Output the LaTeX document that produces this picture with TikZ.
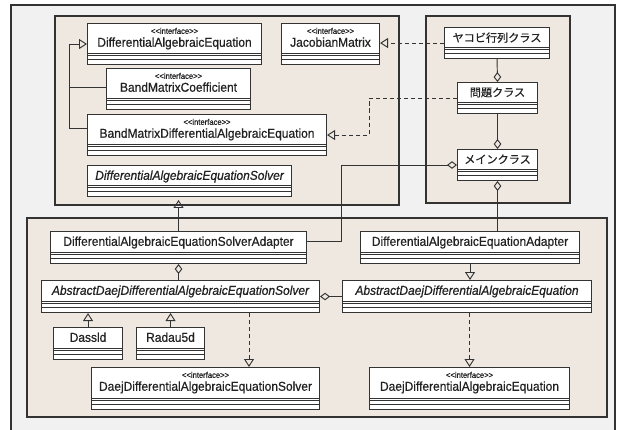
\documentclass[tikz,border=0pt]{standalone}
\usepackage{fontspec}
\setmainfont{Liberation Sans}[FakeStretch=0.93, FakeBold=0.6]
\newfontfamily\cjkfont{Noto Sans CJK JP}[FakeBold=0.5]
\newcommand{\cjk}{\cjkfont\fontsize{9.5}{11}\selectfont}
\usetikzlibrary{arrows.meta}
\usetikzlibrary{calc}

\definecolor{linec}{HTML}{333333}
\definecolor{framec}{HTML}{F1F1F1}
\definecolor{pkgc}{HTML}{EFE8E1}
\definecolor{textc}{HTML}{222222}

\newcommand{\pxu}{0.03cm}
\newcommand{\stereo}{{\fontsize{7}{7.5}\selectfont <\kern0pt<interface>\kern0pt>}\\[-1pt]}

\tikzset{
  frame/.style={draw=linec, fill=framec, line width=0.9pt},
  pkg/.style={draw=linec, fill=pkgc, line width=0.9pt},
  cls/.style={draw=linec, fill=white, line width=0.9pt, inner sep=0pt, anchor=north west,
    path picture={
      \foreach \h in {5.5,9.5,11.5}
        \draw[draw=linec, line width=0.7pt]
          ([yshift=\h*\pxu]path picture bounding box.south west) --
          ([yshift=\h*\pxu]path picture bounding box.south east);
    }},
  lbl/.style={anchor=north, inner sep=0pt, yshift=-4.5pt, align=center, text=textc,
    font=\fontsize{11}{12}\selectfont},
  iflbl/.style={lbl, yshift=0.5pt},
  conn/.style={draw=linec, line width=0.8pt},
  gen/.style={conn, -{Triangle[open, length=6.8pt, width=8.5pt]}},
  real/.style={gen, dash pattern=on 3.5pt off 2.5pt},
  aggend/.style={conn, -{Diamond[open, length=8.5pt, width=6.5pt]}},
  aggstart/.style={conn, {Diamond[open, length=8.5pt, width=6.5pt]}-},
}

\begin{document}
\begin{tikzpicture}[x=\pxu, y=-\pxu]
  \useasboundingbox (0,0) rectangle (623,430);
  \clip (0,0) rectangle (623,430);

  % frame and packages
  \draw[frame] (11,5) rectangle (615,440);
  \draw[pkg] (55,16) rectangle (399,205);
  \draw[pkg] (426,16) rectangle (570,203);
  \draw[pkg] (27,218) rectangle (607,417);

  % interfaces
  \node[cls, minimum width=174*\pxu, minimum height=41*\pxu,
        label={[iflbl]north:{\stereo DifferentialAlgebraicEquation}}] (dae) at (87,23) {};
  \node[cls, minimum width=98*\pxu, minimum height=41*\pxu,
        label={[iflbl]north:{\stereo JacobianMatrix}}] (jm) at (281,23) {};
  \node[cls, minimum width=144*\pxu, minimum height=41*\pxu,
        label={[iflbl]north:{\stereo BandMatrixCoefficient}}] (bmc) at (106,68) {};
  \node[cls, minimum width=239*\pxu, minimum height=41*\pxu,
        label={[iflbl]north:{\stereo BandMatrixDifferentialAlgebraicEquation}}] (bmdae) at (87,114) {};
  \node[cls, minimum width=204*\pxu, minimum height=31*\pxu,
        label={[lbl]north:{\itshape DifferentialAlgebraicEquationSolver}}] (daes) at (87,165) {};

  % application classes
  \node[cls, minimum width=105*\pxu, minimum height=31*\pxu,
        label={[lbl]north:{\cjk ヤコビ行列クラス}}] (jac) at (444,27) {};
  \node[cls, minimum width=80*\pxu, minimum height=31*\pxu,
        label={[lbl]north:{\cjk 問題クラス}}] (prob) at (457,82) {};
  \node[cls, minimum width=80*\pxu, minimum height=31*\pxu,
        label={[lbl]north:{\cjk メインクラス}}] (main) at (457,149) {};

  % adapters and daej
  \node[cls, minimum width=256*\pxu, minimum height=32*\pxu,
        label={[lbl]north:{DifferentialAlgebraicEquationSolverAdapter}}] (sadp) at (50,231) {};
  \node[cls, minimum width=219*\pxu, minimum height=32*\pxu,
        label={[lbl]north:{DifferentialAlgebraicEquationAdapter}}] (daeadp) at (360,231) {};
  \node[cls, minimum width=278*\pxu, minimum height=32*\pxu,
        label={[lbl]north:{\itshape AbstractDaejDifferentialAlgebraicEquationSolver}}] (asol) at (41,280) {};
  \node[cls, minimum width=249*\pxu, minimum height=32*\pxu,
        label={[lbl]north:{\itshape AbstractDaejDifferentialAlgebraicEquation}}] (adae) at (342,280) {};
  \node[cls, minimum width=69*\pxu, minimum height=32*\pxu,
        label={[lbl]north:{Dassld}}] (dassl) at (53,327) {};
  \node[cls, minimum width=68*\pxu, minimum height=32*\pxu,
        label={[lbl]north:{Radau5d}}] (radau) at (136,327) {};
  \node[cls, minimum width=228*\pxu, minimum height=42*\pxu,
        label={[iflbl]north:{\stereo DaejDifferentialAlgebraicEquationSolver}}] (dsolv) at (91,367) {};
  \node[cls, minimum width=200*\pxu, minimum height=42*\pxu,
        label={[iflbl]north:{\stereo DaejDifferentialAlgebraicEquation}}] (ddae) at (369,367) {};

  % generalization
  \draw[gen] ($(bmdae.north west)+(0,14)$) -| ($(dae.west)+(-18,0)$) -- (dae.west);
  \draw[conn] ($(bmc.north west)+(0,19)$) -- ++(-37,0);
  \draw[gen, shorten >=2.5pt] (sadp.north) -- (sadp.north |- daes.south);
  \draw[gen] (dassl.north) -- (dassl.north |- asol.south);
  \draw[gen] (radau.north) -- (radau.north |- asol.south);
  \draw[gen] (daeadp.south) -- (daeadp.south |- adae.north);

  % realization
  \draw[real] (jac.west) -- (jac.west -| jm.east);
  \draw[real] (prob.west) -| ($(bmdae.east)+(42,0)$) -- (bmdae.east);
  \draw[real] ($(asol.south west)+(208,0)$) coordinate (r1) -- (r1 |- dsolv.north);
  \draw[real] (adae.south -| ddae.north) -- (ddae.north);

  % aggregation
  \draw[aggend] (jac.south) -- (prob.north);
  \draw[aggend] (prob.south) -- (main.north);
  \draw[aggstart] (main.south) -- (main.south |- daeadp.north);
  \draw[aggstart] (main.west) -| ($(sadp.north east)+(34,10)$) -- ($(sadp.north east)+(0,10)$);
  \draw[aggstart] (sadp.south) -- (sadp.south |- asol.north);
  \draw[aggstart] (asol.east) -- (asol.east -| adae.west);
\end{tikzpicture}
\end{document}
